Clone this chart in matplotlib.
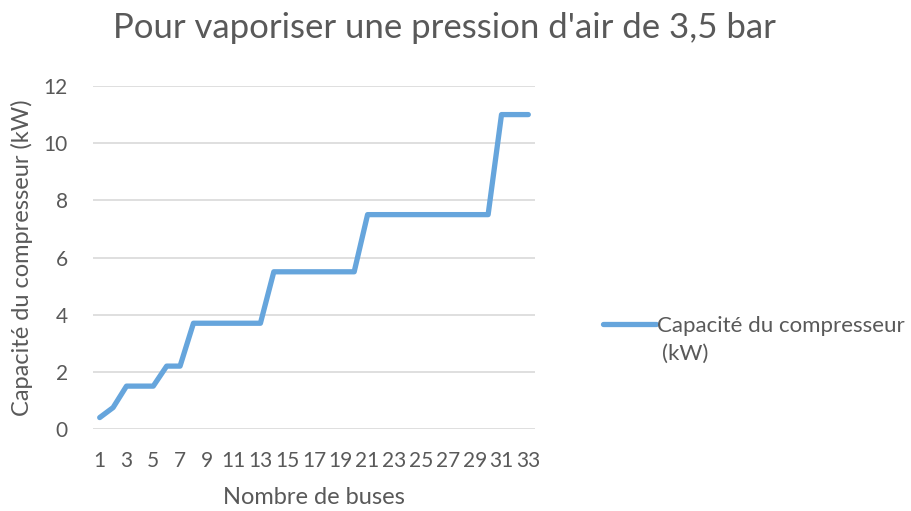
import matplotlib
matplotlib.use("Agg")
import matplotlib.pyplot as plt
from matplotlib.lines import Line2D

plt.rcParams['font.family'] = ['Lato', 'DejaVu Sans']

buses = list(range(1, 34))
capacite = [0.4, 0.75, 1.5, 1.5, 1.5, 2.2, 2.2,
            3.7, 3.7, 3.7, 3.7, 3.7, 3.7,
            5.5, 5.5, 5.5, 5.5, 5.5, 5.5, 5.5,
            7.5, 7.5, 7.5, 7.5, 7.5, 7.5, 7.5, 7.5, 7.5, 7.5,
            11, 11, 11]
xticks = list(range(1, 34, 2))
yticks = [0, 2, 4, 6, 8, 10, 12]

title = "Pour vaporiser une pression d'air de 3,5 bar"
xlabel = "Nombre de buses"
ylabel = "Capacité du compresseur (kW)"
series_name = "Capacité du compresseur"

txt = '#595959'
blue = '#66A5DC'
fs = 16

fig = plt.figure(figsize=(9.11, 5.11), dpi=100)
ax = fig.add_axes([93/911, 1-429/511, (535-93)/911, (429-86)/511])
ax.plot(buses, capacite, color=blue, lw=3.8, solid_joinstyle='round', solid_capstyle='round', label=series_name)
ax.set_xlim(0.5, 33.5)
ax.set_ylim(0, 12)
ax.set_xticks(xticks)
ax.set_xticklabels([str(v) for v in xticks])
ax.set_yticks(yticks)
ax.grid(axis='y', color='#D9D9D9', lw=1.2)
ax.set_axisbelow(True)
for s in ax.spines.values():
    s.set_visible(False)
ax.tick_params(axis='both', length=0, labelsize=15, colors=txt)
ax.tick_params(axis='x', pad=16)
ax.tick_params(axis='y', pad=18)
ax.set_xlabel(xlabel, fontsize=17, color=txt, labelpad=11)
ax.set_ylabel(ylabel, fontsize=17, color=txt, labelpad=8)
fig.text(444/911, 1-28/511, title, ha='center', va='center', fontsize=25, color=txt)

leg = fig.legend(handles=[Line2D([], [], color=blue, lw=3.8, solid_capstyle='round')],
                 labels=[series_name], loc='center left',
                 bbox_to_anchor=(603/911, 1-326/511), frameon=False,
                 fontsize=fs, labelcolor=txt, handlelength=2.4, handletextpad=0.05,
                 borderaxespad=0, borderpad=0)
fig.text(662/911, 1-354/511, "(kW)", ha='left', va='center', fontsize=fs, color=txt)

fig.savefig("out.png", dpi=100)
